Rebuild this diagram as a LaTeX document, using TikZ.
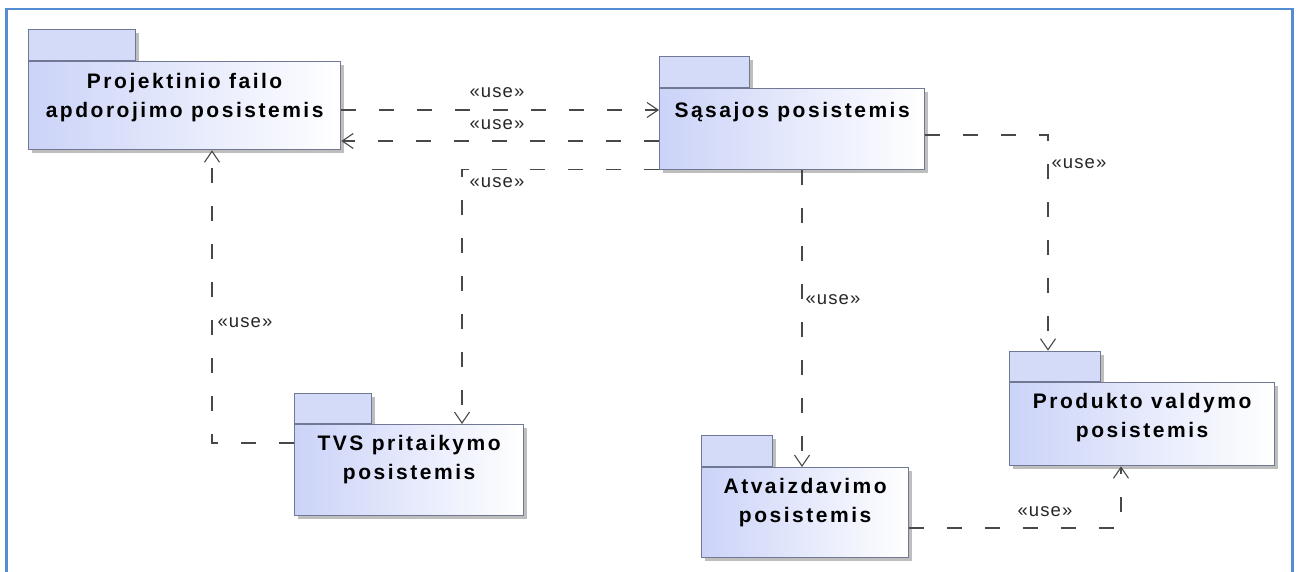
\documentclass[tikz,border=0pt]{standalone}
\usepackage{fontspec}
\setmainfont{Liberation Sans}
\newfontfamily\pkgfont[LetterSpace=12]{Liberation Sans Bold}
\newfontfamily\stereofont[LetterSpace=6]{Liberation Sans}
\usetikzlibrary{arrows.meta,calc,shadows}

\definecolor{frameblue}{RGB}{84,141,212}
\definecolor{pkgfill}{RGB}{203,211,248}
\definecolor{tabfill}{RGB}{212,219,249}
\definecolor{pkgline}{RGB}{112,120,148}
\definecolor{shadowgray}{RGB}{190,190,190}
\definecolor{depline}{RGB}{72,72,72}

\tikzset{
  pkgshadow/.style={drop shadow={shadow xshift=3.5pt,shadow yshift=-3.5pt,fill=shadowgray,opacity=1}},
  pkgtab/.style={draw=pkgline, line width=1.3pt, fill=tabfill, pkgshadow, inner sep=0pt, anchor=south west},
  pkgbody/.style={draw=pkgline, line width=1.3pt, left color=pkgfill, right color=white, pkgshadow, inner sep=0pt, anchor=north west},
  pkgtext/.style={font=\pkgfont\fontsize{21}{29}\selectfont, align=center, inner sep=0pt, anchor=base},
  dep/.style={draw=depline, line width=1.1pt, dash pattern=on 15pt off 23pt,
    -{Straight Barb[length=11pt,width=15pt,line width=1.1pt]}},
  stereo/.style={font=\stereofont\fontsize{18.5}{20}\selectfont, text=black!85, inner sep=0pt}
}

\begin{document}
\begin{tikzpicture}[x=1pt,y=-1pt]
\useasboundingbox (0,0) rectangle (1298,571);

% outer frame (open at the bottom)
\draw[frameblue, line width=2.4pt] (6.5,575) -- (6.5,9) -- (1292.5,9) -- (1292.5,575);

% packages: tab first, then body; text nodes are anchored at the last baseline
\node[pkgtab, minimum width=107pt, minimum height=31pt] (p1tab) at (28,61) {};
\node[pkgbody, minimum width=312pt, minimum height=88pt] (p1) at (28,61) {};
\node[pkgtext] (p1t) at ([yshift=-56pt]p1.north) {Projektinio failo\\apdorojimo posistemis};

\node[pkgtab, minimum width=90pt, minimum height=31pt] (p2tab) at (659,88) {};
\node[pkgbody, minimum width=265pt, minimum height=81pt] (p2) at (659,88) {};
\node[pkgtext] (p2t) at ([yshift=-29pt]p2.north) {Sąsajos posistemis};

\node[pkgtab, minimum width=77pt, minimum height=30pt] (p3tab) at (294,424) {};
\node[pkgbody, minimum width=229pt, minimum height=91pt] (p3) at (294,424) {};
\node[pkgtext] (p3t) at ([yshift=-55pt]p3.north) {TVS pritaikymo\\posistemis};

\node[pkgtab, minimum width=71pt, minimum height=31pt] (p4tab) at (701,467) {};
\node[pkgbody, minimum width=207pt, minimum height=90pt] (p4) at (701,467) {};
\node[pkgtext] (p4t) at ([yshift=-55pt]p4.north) {Atvaizdavimo\\posistemis};

\node[pkgtab, minimum width=91pt, minimum height=30pt] (p5tab) at (1009,382) {};
\node[pkgbody, minimum width=265pt, minimum height=83pt] (p5) at (1009,382) {};
\node[pkgtext] (p5t) at ([yshift=-55pt]p5.north) {Produkto valdymo\\posistemis};

% dependencies
\draw[dep] ([yshift=-49pt]p1.north east) -- ([yshift=-22pt]p2.north west);
\draw[dep] ([yshift=-53pt]p2.north west) -- ([yshift=-80pt]p1.north east);
\draw[dep] ([yshift=1pt]p2.south west) -| ([xshift=168pt]p3.north west);
\draw[dep] ([xshift=143pt]p2.south west) -- ([xshift=101pt]p4.north west);
\draw[dep] ([yshift=-47pt]p2.north east) -| ([xshift=39pt]p5tab.north west);
\draw[dep] ([yshift=-61pt]p4.north east) -| ([xshift=112pt]p5.south west);
\draw[dep] ([yshift=-19pt]p3.north west) -| ([xshift=184pt]p1.south west);

% stereotype labels
\node[stereo] (l1) at (497,93) {«use»};
\node[stereo] (l2) at (497,125) {«use»};
\node[stereo] (l3) at (497,183) {«use»};
\node[stereo] (l4) at (833,300) {«use»};
\node[stereo] (l5) at (1079,164) {«use»};
\node[stereo] (l6) at (1045,512) {«use»};
\node[stereo] (l7) at (245,323) {«use»};
\end{tikzpicture}
\end{document}
